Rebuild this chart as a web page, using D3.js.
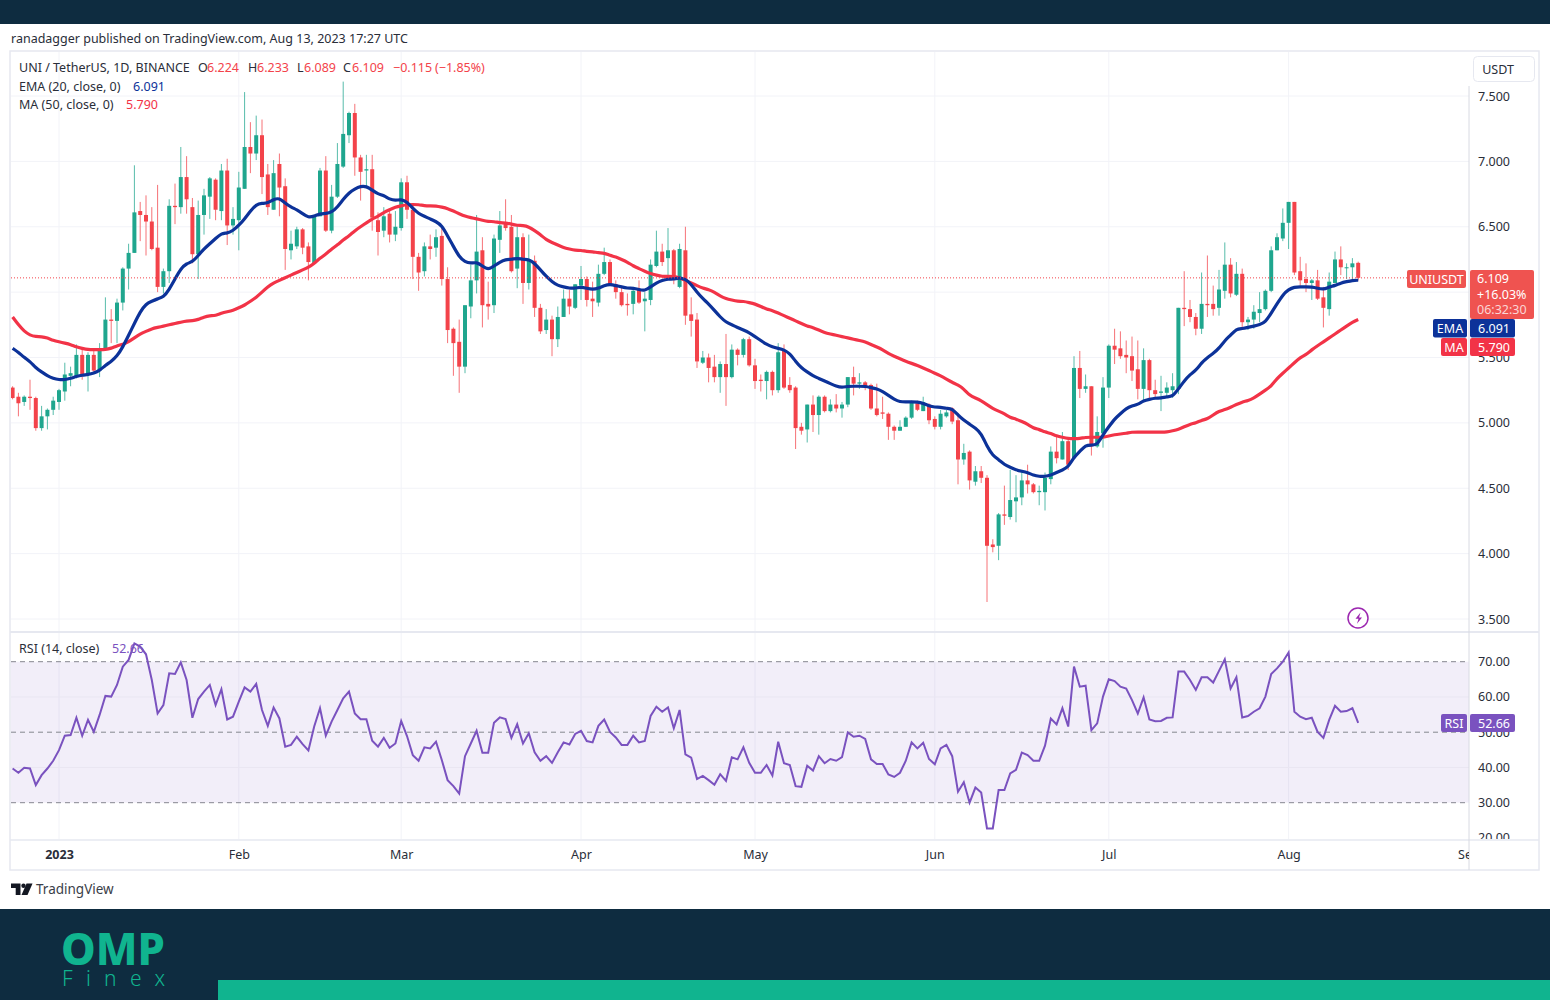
<!DOCTYPE html>
<html>
<head>
<meta charset="utf-8">
<title>UNI / TetherUS</title>
<script src="https://cdn.jsdelivr.net/npm/d3@7"></script>
<style>
    html, body { margin: 0; padding: 0; background: #fff; }
    svg { display: block; }
    text { font-family: "Noto Sans", sans-serif; }
</style>
</head>
<body>
<svg id="chart" width="1550" height="1000"></svg>
<script>
// daily candles, first one is 24 Dec 2022, last one 13 Aug 2023
var firstDay = new Date(Date.UTC(2022, 11, 24));
var lastDay = new Date(Date.UTC(2023, 7, 13));

var opens = [
    5.27,5.20,5.16,5.20,5.19,4.96,5.05,5.10,5.16,5.24,
    5.36,5.36,5.52,5.38,5.52,5.40,5.57,5.79,5.78,5.92,
    6.18,6.30,6.62,6.59,6.54,6.34,6.04,6.16,6.66,6.65,
    6.88,6.65,6.29,6.59,6.73,6.86,6.62,6.93,6.51,6.55,
    6.79,7.11,7.06,7.20,6.90,6.63,6.98,6.81,6.32,6.35,
    6.48,6.35,6.22,6.58,6.93,6.47,6.73,6.96,7.20,7.37,
    7.03,6.93,6.94,6.55,6.47,6.60,6.44,6.49,6.84,6.63,
    6.27,6.16,6.35,6.34,6.43,6.10,5.72,5.62,5.43,5.89,
    6.09,6.32,5.91,5.90,6.40,6.53,6.50,6.18,6.42,6.07,
    6.24,5.88,5.71,5.79,5.64,5.81,5.95,5.88,6.05,6.10,
    5.95,5.92,6.14,6.23,6.06,6.00,5.91,5.91,6.02,5.93,
    5.94,6.20,6.31,6.26,6.32,6.04,6.32,5.83,5.79,5.46,
    5.50,5.43,5.35,5.45,5.35,5.56,5.52,5.64,5.44,5.33,
    5.32,5.39,5.25,5.55,5.29,5.27,4.97,4.95,5.14,5.06,
    5.20,5.09,5.14,5.11,5.14,5.35,5.30,5.31,5.29,5.11,
    5.08,5.07,4.97,4.94,4.97,5.04,5.15,5.09,5.14,5.03,
    4.97,5.05,5.11,5.02,4.72,4.78,4.55,4.63,4.58,4.07,
    4.06,4.30,4.28,4.40,4.43,4.56,4.53,4.47,4.47,4.57,
    4.78,4.72,4.86,4.73,5.42,5.26,5.28,4.82,4.92,5.27,
    5.59,5.57,5.52,5.51,5.41,5.26,5.48,5.25,5.23,5.23,
    5.25,5.26,5.88,5.87,5.81,5.72,5.91,5.91,5.88,6.01,
    6.21,5.98,6.14,5.77,5.79,5.84,5.87,6.01,6.32,6.41,
    6.53,6.69,6.16,6.10,6.07,6.09,5.96,5.87,6.07,6.25,
    6.19,6.19,6.224
];
var highs = [
    5.28,5.23,5.21,5.33,5.20,5.13,5.11,5.20,5.26,5.46,
    5.43,5.60,5.58,5.54,5.55,5.61,5.96,5.87,5.95,6.19,
    6.37,6.97,6.69,6.74,6.65,6.82,6.18,6.71,6.83,7.11,
    7.04,6.72,6.70,6.79,6.88,6.87,6.98,7.02,6.65,6.92,
    7.53,7.30,7.35,7.32,6.98,7.01,7.06,6.87,6.47,6.50,
    6.49,6.38,6.59,6.95,7.04,6.82,7.14,7.61,7.38,7.44,
    7.05,7.05,7.05,6.61,6.65,6.63,6.62,6.87,6.89,6.68,
    6.30,6.38,6.44,6.48,6.50,6.19,5.73,5.79,5.90,6.21,
    6.59,6.42,6.08,6.44,6.62,6.71,6.59,6.51,6.45,6.44,
    6.28,5.91,5.87,5.82,5.89,6.02,6.02,6.06,6.20,6.12,
    6.08,6.21,6.34,6.25,6.09,6.05,5.99,6.04,6.09,6.00,
    6.25,6.47,6.37,6.49,6.33,6.37,6.50,5.96,5.84,5.55,
    5.53,5.52,5.47,5.68,5.60,5.57,5.65,5.66,5.49,5.37,
    5.40,5.40,5.61,5.60,5.35,5.28,5.00,5.14,5.21,5.21,
    5.21,5.18,5.22,5.16,5.35,5.43,5.38,5.32,5.30,5.30,
    5.20,5.08,4.98,5.02,5.05,5.17,5.17,5.20,5.15,5.05,
    5.10,5.10,5.12,5.06,4.84,4.79,4.67,4.67,4.60,4.11,
    4.31,4.52,4.64,4.60,4.63,4.68,4.54,4.52,4.62,4.82,
    4.90,4.93,4.87,5.51,5.55,5.37,5.28,5.05,5.35,5.60,
    5.72,5.70,5.63,5.66,5.63,5.57,5.49,5.33,5.36,5.31,
    5.38,5.88,6.16,5.94,5.84,6.15,6.28,6.05,6.17,6.38,
    6.26,6.23,6.18,5.81,5.90,6.00,6.02,6.35,6.45,6.64,
    6.69,6.69,6.27,6.22,6.10,6.17,6.04,6.15,6.31,6.35,
    6.22,6.26,6.233
];
var lows = [
    5.18,5.05,5.13,5.10,4.94,4.94,4.95,5.06,5.10,5.17,
    5.28,5.34,5.33,5.24,5.38,5.35,5.56,5.61,5.61,5.86,
    6.02,6.30,6.39,6.28,6.32,6.00,5.99,6.07,6.52,6.60,
    6.60,6.22,6.10,6.44,6.56,6.55,6.55,6.36,6.44,6.32,
    6.79,6.91,7.01,6.75,6.59,6.63,6.58,6.17,6.25,6.33,
    6.29,6.09,6.22,6.58,6.46,6.45,6.72,6.95,7.14,6.89,
    6.70,6.81,6.47,6.28,6.42,6.38,6.39,6.47,6.56,6.10,
    6.01,6.12,6.25,6.27,6.05,5.61,5.36,5.23,5.38,5.80,
    5.99,5.73,5.79,5.84,6.30,6.47,6.15,6.03,5.91,6.02,
    5.81,5.68,5.68,5.51,5.58,5.81,5.83,5.87,5.94,5.89,
    5.81,5.89,6.13,6.05,5.95,5.89,5.82,5.83,5.91,5.70,
    5.90,6.19,6.20,6.10,6.06,6.03,5.75,5.66,5.42,5.45,
    5.31,5.31,5.23,5.13,5.34,5.44,5.50,5.43,5.26,5.24,
    5.18,5.21,5.23,5.26,5.23,4.80,4.91,4.85,4.93,4.91,
    5.08,5.08,5.08,5.04,5.12,5.21,5.26,5.25,5.10,5.05,
    5.03,4.87,4.87,4.94,4.97,5.03,5.09,5.09,4.99,4.95,
    4.95,5.04,4.99,4.53,4.68,4.49,4.52,4.54,3.63,4.01,
    3.95,4.22,4.26,4.24,4.37,4.46,4.46,4.37,4.33,4.53,
    4.69,4.72,4.64,4.73,5.19,5.23,4.75,4.81,4.81,5.19,
    5.45,5.49,5.38,5.32,5.18,5.17,5.19,5.19,5.09,5.20,
    5.19,5.22,5.74,5.77,5.67,5.68,5.81,5.82,5.82,5.95,
    5.96,5.97,5.71,5.71,5.72,5.77,5.86,6.00,6.32,6.39,
    6.33,6.13,6.05,6.00,5.94,5.94,5.73,5.82,6.07,6.13,
    6.10,6.10,6.089
];
var closes = [
    5.19,5.15,5.20,5.19,4.96,5.05,5.10,5.17,5.25,5.37,
    5.38,5.52,5.36,5.52,5.40,5.57,5.79,5.78,5.92,6.18,
    6.30,6.61,6.59,6.54,6.33,6.04,6.16,6.66,6.65,6.88,
    6.71,6.29,6.59,6.74,6.87,6.63,6.93,6.51,6.56,6.80,
    7.11,7.06,7.20,6.88,6.65,6.91,6.80,6.33,6.37,6.48,
    6.34,6.23,6.59,6.93,6.47,6.73,6.98,7.21,7.37,7.03,
    6.92,6.94,6.57,6.46,6.58,6.44,6.50,6.84,6.63,6.27,
    6.15,6.35,6.33,6.42,6.10,5.71,5.61,5.43,5.90,6.09,
    6.31,5.90,5.89,6.41,6.51,6.49,6.16,6.42,6.07,6.25,
    5.88,5.70,5.79,5.64,5.81,5.95,5.89,6.06,6.10,5.94,
    5.93,6.14,6.23,6.06,6.00,5.90,5.90,6.01,5.92,5.95,
    6.21,6.31,6.23,6.32,6.10,6.33,5.82,5.78,5.47,5.50,
    5.42,5.35,5.45,5.35,5.56,5.52,5.64,5.44,5.32,5.32,
    5.39,5.25,5.54,5.27,5.25,4.96,4.94,5.14,5.06,5.20,
    5.09,5.14,5.11,5.14,5.35,5.30,5.31,5.28,5.11,5.06,
    5.07,4.97,4.94,4.97,5.04,5.16,5.10,5.16,5.02,4.97,
    5.07,5.08,5.01,4.72,4.77,4.56,4.63,4.58,4.06,4.05,
    4.30,4.29,4.41,4.43,4.56,4.53,4.47,4.48,4.58,4.78,
    4.73,4.86,4.68,5.42,5.26,5.28,4.82,4.93,5.27,5.59,
    5.56,5.51,5.50,5.40,5.26,5.48,5.25,5.22,5.24,5.27,
    5.28,5.88,5.87,5.81,5.72,5.91,5.90,5.87,6.02,6.21,
    5.99,6.14,5.77,5.79,5.85,5.87,6.01,6.32,6.42,6.53,
    6.69,6.15,6.09,6.07,6.09,5.95,5.88,6.08,6.25,6.19,
    6.19,6.22,6.109
];
var emaValues = [
    5.57,5.54,5.50,5.47,5.42,5.39,5.36,5.34,5.33,5.33,
    5.34,5.355,5.365,5.37,5.38,5.40,5.44,5.47,5.51,5.58,
    5.67,5.76,5.85,5.91,5.93,5.95,5.96,6.02,6.10,6.18,
    6.22,6.23,6.28,6.33,6.37,6.41,6.45,6.45,6.47,6.51,
    6.56,6.62,6.67,6.68,6.68,6.71,6.72,6.68,6.65,6.63,
    6.60,6.57,6.58,6.60,6.60,6.61,6.65,6.71,6.76,6.79,
    6.81,6.81,6.78,6.75,6.74,6.71,6.70,6.71,6.69,6.64,
    6.60,6.58,6.56,6.54,6.51,6.43,6.35,6.27,6.23,6.22,
    6.23,6.20,6.17,6.20,6.23,6.25,6.25,6.26,6.25,6.25,
    6.22,6.17,6.12,6.08,6.05,6.04,6.03,6.03,6.04,6.03,
    6.02,6.03,6.05,6.06,6.05,6.04,6.03,6.03,6.02,6.01,
    6.04,6.07,6.09,6.10,6.10,6.11,6.10,6.06,6.00,5.95,
    5.91,5.86,5.81,5.77,5.75,5.73,5.71,5.69,5.66,5.63,
    5.60,5.58,5.57,5.56,5.53,5.47,5.42,5.39,5.36,5.34,
    5.32,5.30,5.28,5.27,5.28,5.28,5.28,5.28,5.27,5.26,
    5.24,5.21,5.18,5.16,5.16,5.16,5.16,5.15,5.13,5.12,
    5.12,5.11,5.11,5.06,5.02,4.99,4.96,4.92,4.82,4.75,
    4.72,4.68,4.66,4.64,4.63,4.62,4.60,4.59,4.59,4.60,
    4.62,4.64,4.66,4.74,4.78,4.83,4.83,4.83,4.91,4.97,
    5.03,5.07,5.11,5.13,5.14,5.17,5.18,5.19,5.19,5.20,
    5.20,5.26,5.32,5.37,5.40,5.46,5.50,5.53,5.57,5.63,
    5.67,5.72,5.72,5.73,5.74,5.75,5.77,5.84,5.91,5.98,
    6.02,6.04,6.04,6.04,6.04,6.03,6.02,6.04,6.05,6.07,
    6.08,6.09,6.091
];
var maValues = [
    5.81,5.75,5.70,5.67,5.66,5.66,5.65,5.63,5.62,5.61,
    5.60,5.58,5.57,5.56,5.56,5.56,5.56,5.57,5.59,5.60,
    5.62,5.65,5.68,5.70,5.72,5.73,5.74,5.75,5.76,5.77,
    5.78,5.78,5.79,5.81,5.82,5.82,5.84,5.85,5.86,5.88,
    5.90,5.93,5.96,6.00,6.04,6.07,6.09,6.11,6.13,6.15,
    6.17,6.19,6.22,6.26,6.29,6.33,6.36,6.40,6.43,6.47,
    6.50,6.53,6.56,6.58,6.61,6.63,6.65,6.66,6.67,6.67,
    6.67,6.66,6.66,6.66,6.65,6.64,6.62,6.60,6.58,6.57,
    6.56,6.55,6.54,6.54,6.53,6.53,6.52,6.51,6.51,6.50,
    6.47,6.44,6.40,6.38,6.36,6.34,6.33,6.32,6.32,6.31,
    6.31,6.30,6.30,6.28,6.27,6.25,6.23,6.20,6.18,6.16,
    6.14,6.13,6.12,6.12,6.12,6.11,6.09,6.07,6.05,6.03,
    6.02,6.00,5.97,5.95,5.94,5.93,5.93,5.92,5.91,5.89,
    5.87,5.86,5.84,5.82,5.80,5.78,5.76,5.74,5.73,5.71,
    5.69,5.68,5.67,5.66,5.65,5.64,5.63,5.62,5.60,5.58,
    5.56,5.53,5.51,5.49,5.47,5.455,5.44,5.42,5.40,5.38,
    5.36,5.335,5.31,5.29,5.26,5.21,5.19,5.17,5.14,5.11,
    5.09,5.07,5.04,5.03,5.01,4.99,4.96,4.95,4.93,4.92,
    4.90,4.89,4.88,4.88,4.88,4.89,4.89,4.89,4.89,4.90,
    4.91,4.915,4.92,4.93,4.93,4.93,4.93,4.93,4.93,4.93,
    4.94,4.95,4.97,4.99,5.00,5.02,5.03,5.06,5.09,5.10,
    5.12,5.14,5.16,5.17,5.19,5.22,5.25,5.28,5.34,5.38,
    5.42,5.46,5.50,5.52,5.56,5.59,5.62,5.65,5.68,5.71,
    5.74,5.77,5.79
];
var rsiValues = [
    39.7,38.5,39.9,39.7,35.0,37.8,39.7,41.9,44.9,49.0,
    49.2,54.1,49.0,53.5,50.1,54.9,60.3,60.1,63.4,68.6,
    70.5,75.2,74.3,72.1,64.8,55.3,57.7,66.7,66.5,69.8,
    64.8,54.1,59.4,61.5,63.4,57.7,62.2,53.6,54.4,58.7,
    62.7,61.5,63.7,56.3,51.8,57.0,53.9,45.9,46.4,48.7,
    46.6,44.8,51.6,56.8,49.0,53.0,56.3,59.6,61.5,55.3,
    53.7,53.7,47.6,45.9,48.4,45.6,46.8,53.2,48.9,43.5,
    41.9,45.7,45.4,47.3,42.1,36.4,34.7,32.6,43.2,46.8,
    50.4,44.2,44.2,52.7,54.2,53.7,48.4,52.3,46.8,49.7,
    44.3,41.9,43.2,41.3,44.3,47.1,46.5,49.5,50.4,47.5,
    47.1,51.8,53.6,50.1,48.5,46.4,46.4,49.0,47.1,47.5,
    54.6,57.2,55.8,57.0,51.1,56.3,43.7,42.8,36.7,37.6,
    36.4,35.1,38.1,36.2,42.9,42.3,45.7,41.3,38.5,38.5,
    40.7,37.7,47.3,41.2,40.7,34.7,34.5,40.5,39.1,43.2,
    41.2,42.4,41.9,42.9,49.9,48.7,49.0,48.1,42.3,41.0,
    41.0,38.0,37.3,38.5,41.9,47.1,45.4,47.0,42.4,40.9,
    45.4,46.4,43.2,33.1,35.8,30.0,34.3,32.9,22.7,22.7,
    33.6,33.6,38.3,39.3,44.2,43.5,41.9,41.9,46.2,53.9,
    52.2,56.8,51.6,68.6,62.9,63.2,50.6,52.5,60.1,65.0,
    64.5,62.9,62.4,59.1,55.3,59.9,53.6,53.1,53.2,54.1,
    54.2,67.2,67.2,64.8,62.0,65.6,65.6,64.1,67.4,70.7,
    62.4,65.6,54.2,54.6,55.8,56.8,60.1,66.5,68.1,70.0,
    72.6,55.8,54.4,53.7,54.1,50.1,48.4,53.5,57.5,55.8,
    56.0,56.8,52.66
];

var priceGridTicks = [3.5, 4, 4.5, 5, 5.5, 6, 6.5, 7, 7.5];
var priceLabelTicks = [3.5, 4, 4.5, 5, 5.5, 6.5, 7, 7.5]; // 6.000 sits under the price badge
var rsiTicks = [20, 30, 40, 50, 60, 70];
var rsiDashed = [30, 50, 70];
var monthTicks = [
    {date: new Date(Date.UTC(2023, 0, 1)), label: "2023"},
    {date: new Date(Date.UTC(2023, 1, 1)), label: "Feb"},
    {date: new Date(Date.UTC(2023, 2, 1)), label: "Mar"},
    {date: new Date(Date.UTC(2023, 3, 1)), label: "Apr"},
    {date: new Date(Date.UTC(2023, 4, 1)), label: "May"},
    {date: new Date(Date.UTC(2023, 5, 1)), label: "Jun"},
    {date: new Date(Date.UTC(2023, 6, 1)), label: "Jul"},
    {date: new Date(Date.UTC(2023, 7, 1)), label: "Aug"},
    {date: new Date(Date.UTC(2023, 8, 1)), label: "Sep"}
];

var NAVY = "#0e2c40", TEAL = "#10b48f";
var UP = "#1fa68e", DOWN = "#f3434a";
var EMA_COLOR = "#0c3299", MA_COLOR = "#f23347", RSI_COLOR = "#7a52bf";
var GRID = "#f2f3f8", BORDER = "#e6e8f0", TEXT = "#2a2e39";

var paneLeft = 11, paneRight = 1469;
var priceTop = 52, priceBottom = 631, rsiTop = 633, rsiBottom = 839;

var days = opens.map(function(d, i) { return d3.utcDay.offset(firstDay, i); });

var x = d3.scaleUtc().domain([firstDay, lastDay]).range([12.6, 1358.2]);
var yPrice = d3.scaleLinear().domain([3.5, 7.5]).range([619, 96]);
var yRsi = d3.scaleLinear().domain([30, 70]).range([802.7, 661.7]);

var svg = d3.select("#chart");

// page furniture
svg.append("rect").attr("width", 1550).attr("height", 24).attr("fill", NAVY);
svg.append("rect").attr("y", 909).attr("width", 1550).attr("height", 91).attr("fill", NAVY);
svg.append("rect").attr("x", 218).attr("y", 980).attr("width", 1332).attr("height", 20).attr("fill", TEAL);

svg.append("text").attr("x", 11).attr("y", 43).attr("font-size", 12.5).attr("fill", TEXT)
    .text("ranadagger published on TradingView.com, Aug 13, 2023 17:27 UTC");

var defs = svg.append("defs");
defs.append("clipPath").attr("id", "clip-price").append("rect")
    .attr("x", paneLeft).attr("y", priceTop).attr("width", paneRight - paneLeft).attr("height", priceBottom - priceTop);
defs.append("clipPath").attr("id", "clip-rsi").append("rect")
    .attr("x", paneLeft).attr("y", rsiTop).attr("width", paneRight - paneLeft).attr("height", rsiBottom - rsiTop);
defs.append("clipPath").attr("id", "clip-rsi-axis").append("rect")
    .attr("x", paneRight).attr("y", rsiTop).attr("width", 70).attr("height", rsiBottom - rsiTop);
defs.append("clipPath").attr("id", "clip-time").append("rect")
    .attr("x", paneLeft).attr("y", 841).attr("width", paneRight - paneLeft).attr("height", 28);

// grid, under everything else
var grid = svg.append("g");
grid.selectAll(".v-price").data(monthTicks.slice(0, 8)).enter().append("line")
    .attr("x1", function(d) { return x(d.date); }).attr("x2", function(d) { return x(d.date); })
    .attr("y1", priceTop).attr("y2", rsiBottom).attr("stroke", GRID);
grid.selectAll(".h-price").data(priceGridTicks).enter().append("line")
    .attr("x1", paneLeft).attr("x2", paneRight)
    .attr("y1", function(d) { return yPrice(d); }).attr("y2", function(d) { return yPrice(d); })
    .attr("stroke", GRID);

// candles
var priceG = svg.append("g").attr("clip-path", "url(#clip-price)");
var candles = priceG.selectAll(".candle").data(days).enter().append("g");
candles.append("line")
    .attr("x1", function(d) { return x(d); }).attr("x2", function(d) { return x(d); })
    .attr("y1", function(d, i) { return yPrice(highs[i]); })
    .attr("y2", function(d, i) { return yPrice(lows[i]); })
    .attr("stroke", function(d, i) { return closes[i] < opens[i] ? DOWN : UP; })
    .attr("stroke-opacity", 0.75);
candles.append("rect")
    .attr("x", function(d) { return x(d) - 2; })
    .attr("width", 4)
    .attr("y", function(d, i) { return yPrice(Math.max(opens[i], closes[i])); })
    .attr("height", function(d, i) { return Math.max(1, Math.abs(yPrice(opens[i]) - yPrice(closes[i]))); })
    .attr("fill", function(d, i) { return closes[i] < opens[i] ? DOWN : UP; });

var priceLine = d3.line()
    .x(function(d, i) { return x(days[i]); })
    .y(function(d) { return yPrice(d); })
    .curve(d3.curveBasis);

priceG.append("path").attr("d", priceLine(maValues))
    .attr("fill", "none").attr("stroke", MA_COLOR).attr("stroke-width", 3.2);
priceG.append("path").attr("d", priceLine(emaValues))
    .attr("fill", "none").attr("stroke", EMA_COLOR).attr("stroke-width", 3.2);

// last price line
svg.append("line")
    .attr("x1", paneLeft).attr("x2", 1407)
    .attr("y1", yPrice(closes[closes.length - 1])).attr("y2", yPrice(closes[closes.length - 1]))
    .attr("stroke", DOWN).attr("stroke-dasharray", "1 2");

// rsi pane
var rsiG = svg.append("g").attr("clip-path", "url(#clip-rsi)");
rsiG.append("rect")
    .attr("x", paneLeft).attr("width", paneRight - paneLeft)
    .attr("y", yRsi(70)).attr("height", yRsi(30) - yRsi(70))
    .attr("fill", "#7e57c2").attr("fill-opacity", 0.1);
rsiG.selectAll(".rsi-grid").data([40, 60]).enter().append("line")
    .attr("x1", paneLeft).attr("x2", paneRight)
    .attr("y1", function(d) { return yRsi(d); }).attr("y2", function(d) { return yRsi(d); })
    .attr("stroke", "#e9e6f2");
rsiG.selectAll(".rsi-dash").data(rsiDashed).enter().append("line")
    .attr("x1", paneLeft).attr("x2", paneRight)
    .attr("y1", function(d) { return yRsi(d); }).attr("y2", function(d) { return yRsi(d); })
    .attr("stroke", "#85878f").attr("stroke-dasharray", "5 4");

var rsiLine = d3.line()
    .x(function(d, i) { return x(days[i]); })
    .y(function(d) { return yRsi(d); });
rsiG.append("path").attr("d", rsiLine(rsiValues))
    .attr("fill", "none").attr("stroke", RSI_COLOR).attr("stroke-width", 2);

// frame and pane separators
svg.append("rect").attr("x", 10).attr("y", 51).attr("width", 1529).attr("height", 819)
    .attr("fill", "none").attr("stroke", BORDER).attr("stroke-width", 1.5);
svg.append("line").attr("x1", 10).attr("x2", 1539).attr("y1", 632).attr("y2", 632)
    .attr("stroke", BORDER).attr("stroke-width", 2);
svg.append("line").attr("x1", 10).attr("x2", 1539).attr("y1", 840).attr("y2", 840)
    .attr("stroke", BORDER).attr("stroke-width", 1.5);
svg.append("line").attr("x1", paneRight).attr("x2", paneRight).attr("y1", 86).attr("y2", 870)
    .attr("stroke", "#d8dae2");

// axes
var priceAxis = d3.axisRight(yPrice).tickValues(priceLabelTicks).tickFormat(d3.format(".3f")).tickSize(0).tickPadding(9);
var rsiAxis = d3.axisRight(yRsi).tickValues(rsiTicks).tickFormat(d3.format(".2f")).tickSize(0).tickPadding(9);
var timeAxis = d3.axisBottom(x)
    .tickValues(monthTicks.map(function(d) { return d.date; }))
    .tickFormat(function(d, i) { return monthTicks[i].label; })
    .tickSize(0).tickPadding(0);

var gPrice = svg.append("g").attr("transform", "translate(" + paneRight + ",0)").call(priceAxis);
var gRsi = svg.append("g").attr("clip-path", "url(#clip-rsi-axis)")
    .append("g").attr("transform", "translate(" + paneRight + ",0)").call(rsiAxis);
var gTime = svg.append("g").attr("clip-path", "url(#clip-time)")
    .append("g").attr("transform", "translate(0,850)").call(timeAxis);

[gPrice, gRsi, gTime].forEach(function(g) {
    g.select(".domain").remove();
    g.selectAll("text").attr("font-family", '"Noto Sans", sans-serif').attr("font-size", 12.5).attr("fill", TEXT);
});
gTime.selectAll("text").filter(function(d, i) { return i == 0; }).attr("font-weight", 700);

// USDT button
svg.append("rect").attr("x", 1473.5).attr("y", 56.5).attr("width", 61).attr("height", 25).attr("rx", 4)
    .attr("fill", "#fff").attr("stroke", BORDER);
svg.append("text").attr("x", 1498).attr("y", 74).attr("font-size", 12.5).attr("text-anchor", "middle")
    .attr("fill", TEXT).text("USDT");

// legend, each part placed where the reference has it
function legendLine(y, parts) {
    var t = svg.append("text").attr("y", y).attr("font-size", 12.5);
    parts.forEach(function(p) {
        t.append("tspan").attr("x", p[0]).attr("fill", p[2]).text(p[1]);
    });
}
legendLine(72, [[19, "UNI / TetherUS, 1D, BINANCE", TEXT], [198, "O", TEXT], [207, "6.224", DOWN],
    [248, "H", TEXT], [257, "6.233", DOWN], [297, "L", TEXT], [304, "6.089", DOWN],
    [343, "C", TEXT], [352, "6.109", DOWN], [393, "\u22120.115", DOWN], [435, "(\u22121.85%)", DOWN]]);
legendLine(91, [[19, "EMA (20, close, 0)", TEXT], [133, "6.091", EMA_COLOR]]);
legendLine(109, [[19, "MA (50, close, 0)", TEXT], [126, "5.790", MA_COLOR]]);
legendLine(653, [[19, "RSI (14, close)", TEXT], [112, "52.66", RSI_COLOR]]);

// value badges on the price axis
function badge(bx, by, w, h, fill, label, align) {
    svg.append("rect").attr("x", bx).attr("y", by).attr("width", w).attr("height", h).attr("rx", 2).attr("fill", fill);
    if (label) {
        svg.append("text").attr("x", align == "left" ? bx + 8 : bx + w / 2).attr("y", by + h / 2 + 4.5)
            .attr("font-size", 12.5).attr("fill", "#fff")
            .attr("text-anchor", align == "left" ? "start" : "middle").text(label);
    }
}
badge(1407, 270, 59, 18, "#ef5350", "UNIUSDT");
badge(1470, 270, 64, 49, "#ef5350");
svg.append("text").attr("x", 1477).attr("y", 283).attr("font-size", 12.5).attr("fill", "#fff").text("6.109");
svg.append("text").attr("x", 1477).attr("y", 299).attr("font-size", 12.5).attr("fill", "#fff").text("+16.03%");
svg.append("text").attr("x", 1477).attr("y", 314).attr("font-size", 12.5).attr("fill", "#fbd5d5").text("06:32:30");
badge(1433, 319, 34, 18.5, EMA_COLOR, "EMA");
badge(1470, 319, 45, 18.5, EMA_COLOR, "6.091", "left");
badge(1441, 338, 26, 18, MA_COLOR, "MA");
badge(1470, 338, 45, 18, MA_COLOR, "5.790", "left");
badge(1441, 714, 26, 18, RSI_COLOR, "RSI");
badge(1470, 714, 45, 18, RSI_COLOR, "52.66", "left");

// lightning badge
svg.append("circle").attr("cx", 1358).attr("cy", 618).attr("r", 10)
    .attr("fill", "#fff").attr("stroke", "#9c27b0").attr("stroke-width", 1.5);
svg.append("path").attr("d", "M1360.5 612.5l-5 6.2h3l-1.5 5 5-6.2h-3z").attr("fill", "#9c27b0");

// TradingView logo
svg.append("path").attr("d", "M11 883.5h9.5v11.5h-4.8v-7H11z").attr("fill", "#131722");
svg.append("circle").attr("cx", 23.5).attr("cy", 885.7).attr("r", 2.2).attr("fill", "#131722");
svg.append("path").attr("d", "M26.5 883.5h6l-5 11.5h-6z").attr("fill", "#131722");
svg.append("text").attr("x", 36).attr("y", 894).attr("font-size", 13.5).attr("fill", "#3a3e48").text("TradingView");

// OMP Finex logo
svg.append("text").attr("x", 61).attr("y", 965).attr("font-family", "Inter, sans-serif").attr("font-weight", 800)
    .attr("font-size", 44).attr("fill", TEAL).attr("textLength", 104).attr("lengthAdjust", "spacingAndGlyphs").text("OMP");
svg.append("text").attr("x", 62).attr("y", 986).attr("font-family", "Lato, sans-serif").attr("font-weight", 300)
    .attr("font-size", 21).attr("fill", TEAL).attr("textLength", 103).text("Finex");
</script>
</body>
</html>
